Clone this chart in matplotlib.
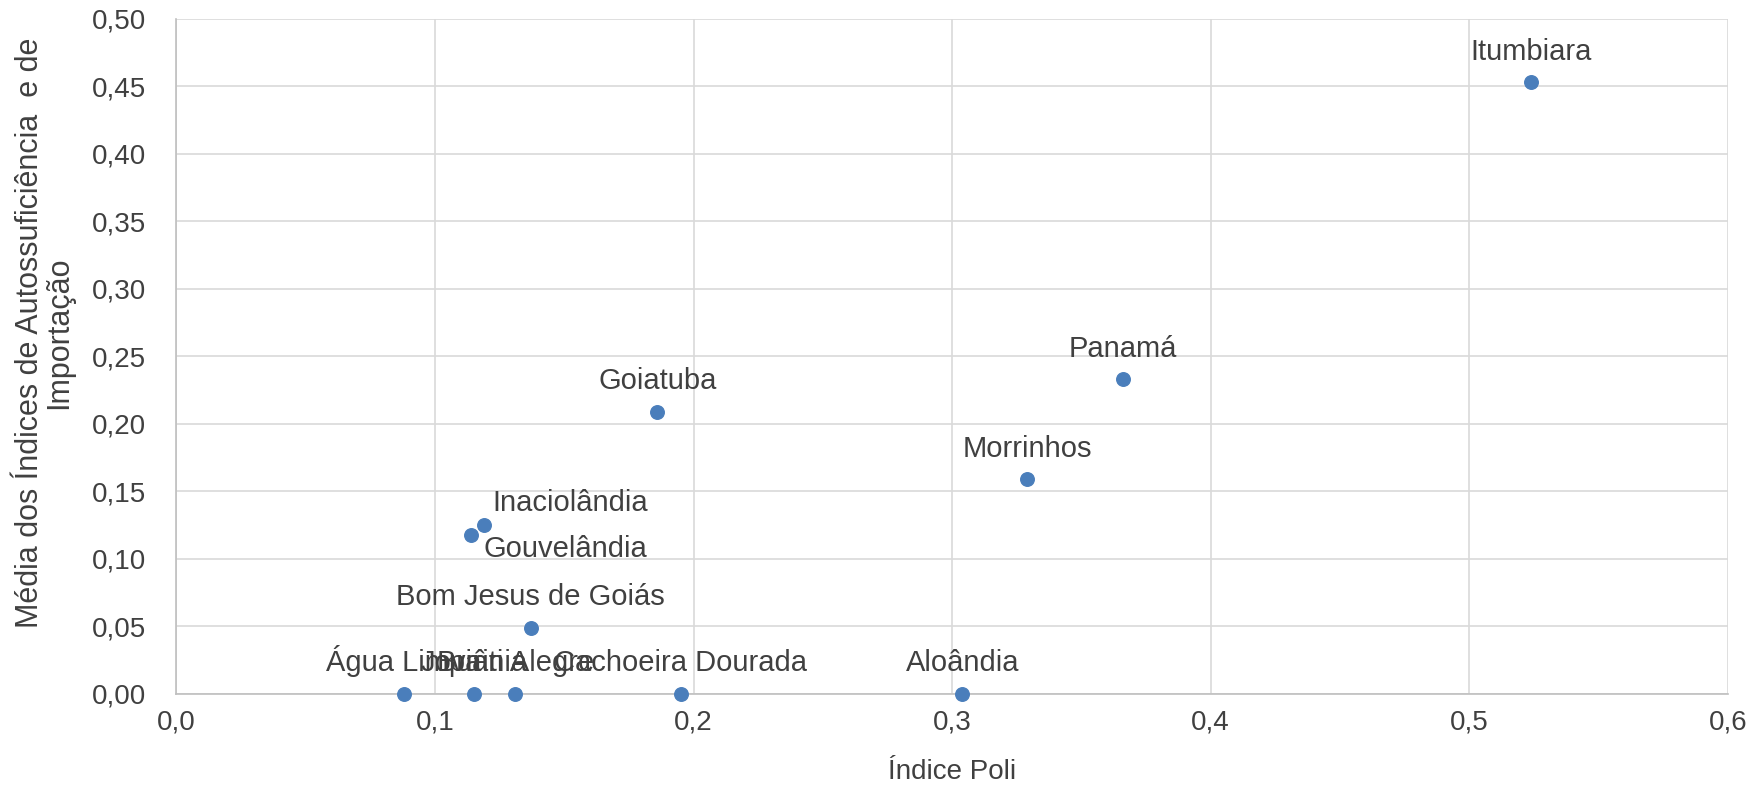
import matplotlib.pyplot as plt
from matplotlib.ticker import FuncFormatter, MultipleLocator

# Data
cities = ['Itumbiara', 'Panamá', 'Morrinhos', 'Goiatuba', 'Inaciolândia',
          'Gouvelândia', 'Bom Jesus de Goiás', 'Água Limpa', 'Joviânia',
          'Buriti Alegre', 'Cachoeira Dourada', 'Aloândia']
indice_poli = [0.524, 0.366, 0.329, 0.186, 0.119,
               0.114, 0.137, 0.088, 0.115,
               0.131, 0.195, 0.304]
media_indices = [0.453, 0.233, 0.159, 0.209, 0.125,
                 0.118, 0.049, 0.0, 0.0,
                 0.0, 0.0, 0.0]

plt.rcParams['font.family'] = ['Liberation Sans', 'DejaVu Sans']
text_color = '#404040'
font_size = 20

fig = plt.figure(figsize=(17.63, 7.85), dpi=100)
ax = fig.add_axes([0.1001, 0.116, 0.8799, 0.860])

ax.scatter(indice_poli, media_indices, s=95, color='#4A7EBB', zorder=3,
           clip_on=False)

# Data labels: centred above the point, except the two moved ones
for name, x, y in zip(cities, indice_poli, media_indices):
    if name == 'Gouvelândia':
        ax.annotate(name, (x, y), xytext=(9, -16), textcoords='offset points',
                    ha='left', va='baseline', fontsize=21, color=text_color)
    elif name == 'Inaciolândia':
        ax.annotate(name, (x, y), xytext=(6, 10), textcoords='offset points',
                    ha='left', va='baseline', fontsize=21, color=text_color)
    else:
        ax.annotate(name, (x, y), xytext=(0, 12), textcoords='offset points',
                    ha='center', va='bottom', fontsize=21, color=text_color)

ax.set_xlim(0, 0.6)
ax.set_ylim(0, 0.5)
ax.xaxis.set_major_locator(MultipleLocator(0.1))
ax.yaxis.set_major_locator(MultipleLocator(0.05))
ax.xaxis.set_major_formatter(FuncFormatter(lambda v, p: f'{v:.1f}'.replace('.', ',')))
ax.yaxis.set_major_formatter(FuncFormatter(lambda v, p: f'{v:.2f}'.replace('.', ',')))

ax.grid(True, color='#D9D9D9', linewidth=1.2, zorder=0)
ax.set_axisbelow(True)
for side in ['top', 'right']:
    ax.spines[side].set_visible(False)
for side in ['left', 'bottom']:
    ax.spines[side].set_color('#BFBFBF')
    ax.spines[side].set_linewidth(1.2)

ax.tick_params(length=0, labelsize=font_size, colors=text_color)
ax.tick_params(axis='y', pad=22)
ax.tick_params(axis='x', pad=11)

ax.set_xlabel('Índice Poli', fontsize=20, color=text_color)
ax.set_ylabel('Média dos Índices de Autossuficiência  e de\nImportação',
              fontsize=22, color=text_color, linespacing=0.95)
ax.xaxis.set_label_coords(0.5, -0.097)
ax.yaxis.set_label_coords(-0.066, 0.535)

fig.savefig('out.png', dpi=100)
